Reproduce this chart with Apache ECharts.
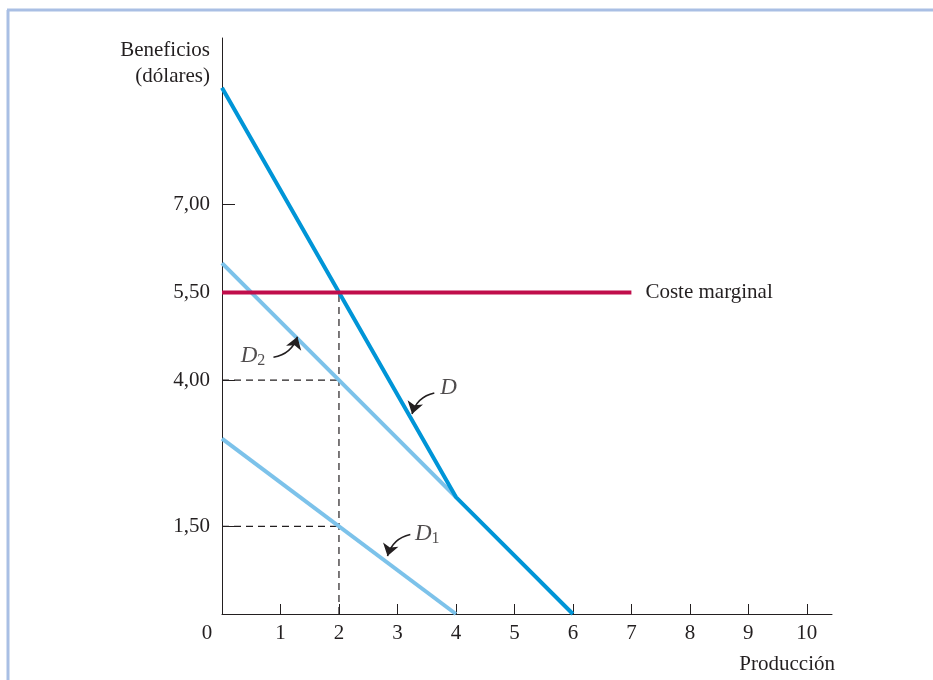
<!DOCTYPE html>
<html>
<head>
<meta charset="utf-8">
<script src="https://cdn.jsdelivr.net/npm/echarts@6/dist/echarts.min.js"></script>
<style>
html,body{margin:0;padding:0;background:#fff;}
#chart{width:933px;height:680px;}
</style>
</head>
<body>
<div id="chart"></div>
<script>
// ---- data ----
const demandD  = [[0, 9], [4, 2], [6, 0]];      // D (vertical sum)
const demandD2 = [[0, 6], [4, 2]];              // D2
const demandD1 = [[0, 3], [4, 0]];              // D1
const marginalCost = [[0, 5.5], [7, 5.5]];      // Coste marginal
const guideD2  = [[0, 4], [2, 4]];
const guideD1  = [[0, 1.5], [2, 1.5]];
const guideQ   = [[2, 0], [2, 5.5]];
const yTickValues = [1.5, 4, 5.5, 7];
const xTickValues = [0, 1, 2, 3, 4, 5, 6, 7, 8, 9, 10];
const curveLabels = [
  { name: 'D',  sub: '',  pos: [3.73, 3.86] },
  { name: 'D',  sub: '2', pos: [0.32, 4.41] },
  { name: 'D',  sub: '1', pos: [3.30, 1.37] }
];
const arrows = [
  [[3.63, 3.78], [3.25, 3.42]],
  [[0.88, 4.39], [1.29, 4.74]],
  [[3.22, 1.36], [2.83, 0.99]]
];
const yTitle = ['Beneficios', '(dólares)'];
const xTitle = 'Producción';
const mcLabel = 'Coste marginal';

// ---- chart ----
const FONT = 'Liberation Serif';
const chart = echarts.init(document.getElementById('chart'), null, { renderer: 'canvas' });
const txt = { fontFamily: FONT, fontSize: 21, color: '#231f20' };

const option = {
  backgroundColor: '#fff',
  animation: false,
  grid: { left: 222, right: 101, top: 38, bottom: 66, containLabel: false },
  xAxis: {
    type: 'value', min: 0, max: 10.43, interval: 1,
    splitLine: { show: false },
    axisLine: { lineStyle: { color: '#231f20', width: 1 } },
    axisTick: { inside: true, length: 10, lineStyle: { color: '#231f20' }, customValues: xTickValues.slice(1) },
    axisLabel: {
      customValues: xTickValues,
      margin: 9,
      ...txt,
      formatter: v => v === 0 ? '{z|0}' : String(v),
      rich: { z: { ...txt, padding: [0, 30, 0, 0] } }
    }
  },
  yAxis: {
    type: 'value', min: 0, max: 9.85,
    splitLine: { show: false },
    axisLine: { show: true, lineStyle: { color: '#231f20', width: 1 } },
    axisTick: { show: true, inside: true, length: 13, lineStyle: { color: '#231f20' }, customValues: yTickValues },
    axisLabel: {
      customValues: yTickValues,
      margin: 12,
      ...txt,
      formatter: v => v.toFixed(2).replace('.', ',')
    }
  },
  graphic: [
    { type: 'line', shape: { x1: 7, y1: 10, x2: 933, y2: 10 }, style: { stroke: '#a9bfe4', lineWidth: 3 }, silent: true },
    { type: 'line', shape: { x1: 8, y1: 10, x2: 8, y2: 680 }, style: { stroke: '#a9bfe4', lineWidth: 3 }, silent: true },
    { type: 'text', x: 210, y: 50, style: { text: yTitle[0], font: '21px "' + FONT + '"', fill: '#231f20', align: 'right', verticalAlign: 'middle' } },
    { type: 'text', x: 210, y: 76, style: { text: yTitle[1], font: '21px "' + FONT + '"', fill: '#231f20', align: 'right', verticalAlign: 'middle' } },
    { type: 'text', x: 835, y: 664, style: { text: xTitle, font: '21px "' + FONT + '"', fill: '#231f20', align: 'right', verticalAlign: 'middle' } }
  ],
  series: [
    { type: 'line', data: guideQ, symbol: 'none', z: 1, lineStyle: { color: '#231f20', width: 1.2, type: [7, 5] } },
    { type: 'line', data: guideD2, symbol: 'none', z: 1, lineStyle: { color: '#231f20', width: 1.2, type: [7, 5] } },
    { type: 'line', data: guideD1, symbol: 'none', z: 1, lineStyle: { color: '#231f20', width: 1.2, type: [7, 5] } },
    { type: 'line', data: demandD1, symbol: 'none', z: 2, lineStyle: { color: '#7cc2ea', width: 4 } },
    { type: 'line', data: demandD2, symbol: 'none', z: 2, lineStyle: { color: '#7cc2ea', width: 4 } },
    { type: 'line', data: demandD, symbol: 'none', z: 3, lineStyle: { color: '#0095d7', width: 4, join: 'round' } },
    {
      type: 'line', data: marginalCost, symbol: 'none', z: 4,
      lineStyle: { color: '#c00d4b', width: 4 },
      endLabel: { show: true, formatter: mcLabel, distance: 14, ...txt }
    },
    {
      type: 'lines', coordinateSystem: 'cartesian2d', z: 5,
      symbol: ['none', 'arrow'], symbolSize: 12,
      lineStyle: { color: '#231f20', width: 1.6, curveness: -0.3, opacity: 1 },
      data: arrows.map(a => ({ coords: a }))
    },
    {
      type: 'scatter', symbolSize: 0, z: 6,
      data: curveLabels.map(l => ({ value: l.pos, name: l.name })),
      label: {
        show: true, position: 'inside', align: 'left', verticalAlign: 'middle',
        formatter: p => {
          const l = curveLabels[p.dataIndex];
          return '{i|' + l.name + '}' + (l.sub ? '{s|' + l.sub + '}' : '');
        },
        rich: {
          i: { fontFamily: FONT, fontStyle: 'italic', fontSize: 23, color: '#231f20' },
          s: { fontFamily: FONT, fontSize: 16, color: '#231f20', padding: [10, 0, 0, 0] }
        }
      }
    }
  ]
};
chart.setOption(option);
</script>
</body>
</html>
